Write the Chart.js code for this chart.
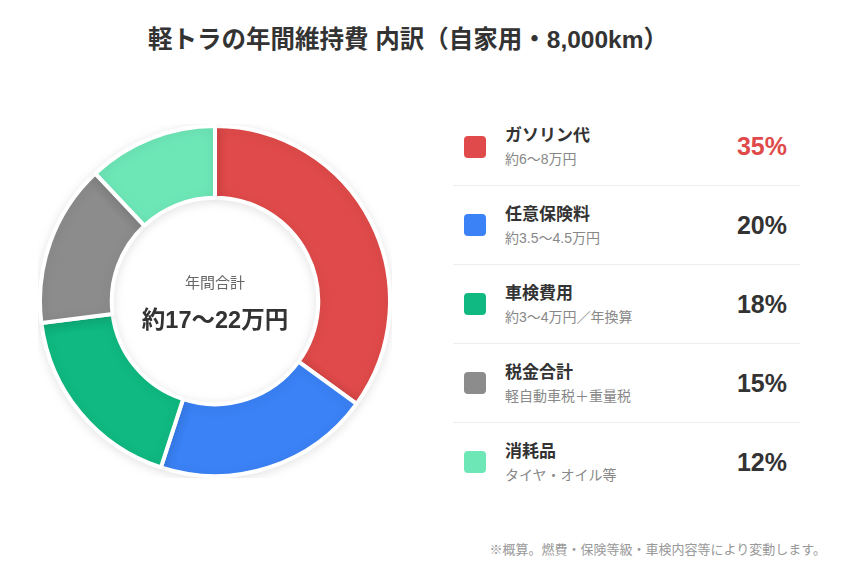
<!DOCTYPE html>
<html lang="ja">
<head>
<meta charset="utf-8">
<script src="https://cdn.jsdelivr.net/npm/chart.js@4.4.1/dist/chart.umd.min.js"></script>
<style>
  body { margin: 0; background: #fff; font-family: Arial, "Liberation Sans", "Noto Sans CJK JP", sans-serif; color: #333; }
  #page { position: relative; width: 862px; height: 568px; overflow: hidden; }
  #titulo { position: absolute; left: 0; width: 816px; top: 20px; text-align: center; font-size: 24.5px; font-weight: bold; color: #333; }
  #donutBox { position: absolute; left: 38px; top: 124px; width: 354px; height: 354px; }
  #centro { position: absolute; left: 38px; top: 126px; width: 354px; height: 354px; display: flex; flex-direction: column; align-items: center; justify-content: center; pointer-events: none; }
  #centro .t1 { font-size: 15px; color: #666; margin-bottom: 9px; }
  #centro .t2 { font-size: 23.5px; font-weight: bold; color: #333; }
  #leyenda { position: absolute; left: 453px; top: 108px; width: 347px; }
  .fila { height: 78px; border-bottom: 1px solid #eee; display: flex; align-items: center; }
  .fila:first-child { height: 77px; }
  .fila:last-child { border-bottom: none; }
  .cuadro { width: 22px; height: 22px; border-radius: 4px; margin-left: 11px; margin-right: 19px; flex: none; }
  .textos { flex: 1; }
  .nombre { font-size: 17px; font-weight: bold; color: #333; line-height: 21px; }
  .sub { font-size: 14px; color: #888; line-height: 18px; margin-top: 4px; }
  .pct { font-size: 25px; font-weight: bold; color: #333; margin-right: 13px; }
  #nota { position: absolute; right: 36px; top: 539px; font-size: 13px; color: #999; }
</style>
</head>
<body>
<div id="page">
  <div id="titulo">軽トラの年間維持費 内訳（自家用・8,000km）</div>
  <div id="donutBox"><canvas id="myChart"></canvas></div>
  <div id="centro"><div class="t1">年間合計</div><div class="t2">約17〜22万円</div></div>
  <div id="leyenda"></div>
  <div id="nota">※概算。燃費・保険等級・車検内容等により変動します。</div>
</div>
<script>
const categorias = ['ガソリン代', '任意保険料', '車検費用', '税金合計', '消耗品'];
const detalles = ['約6〜8万円', '約3.5〜4.5万円', '約3〜4万円／年換算', '軽自動車税＋重量税', 'タイヤ・オイル等'];
const porcentajes = [35, 20, 18, 15, 12];
const colores = ['#e04a4a', '#3b82f6', '#10b981', '#8c8c8c', '#6ee7b7'];

const ctx = document.querySelector('#myChart');
const leyenda = document.querySelector('#leyenda');

// sombra suave alrededor del donut
const sombra = {
  id: 'sombra',
  beforeDatasetsDraw(chart) {
    chart.ctx.save();
    chart.ctx.shadowColor = 'rgba(0,0,0,0.10)';
    chart.ctx.shadowBlur = 12;
    chart.ctx.shadowOffsetY = 2;
  },
  afterDatasetsDraw(chart) {
    chart.ctx.restore();
  }
};

new Chart(ctx, {
  type: 'doughnut',
  data: {
    labels: categorias,
    datasets: [{
      data: porcentajes,
      backgroundColor: colores,
      borderColor: '#fff',
      borderWidth: 4,
      hoverOffset: 0
    }]
  },
  options: {
    responsive: true,
    maintainAspectRatio: false,
    cutout: '59%',
    animation: false,
    plugins: { legend: { display: false }, tooltip: { enabled: false } }
  },
  plugins: [sombra]
});

leyenda.innerHTML = categorias.map((nombre, i) => `
  <div class="fila">
    <div class="cuadro" style="background:${colores[i]}"></div>
    <div class="textos">
      <div class="nombre">${nombre}</div>
      <div class="sub">${detalles[i]}</div>
    </div>
    <div class="pct" style="${i === 0 ? 'color:#e04a4a' : ''}">${porcentajes[i]}%</div>
  </div>`).join('');
</script>
</body>
</html>
